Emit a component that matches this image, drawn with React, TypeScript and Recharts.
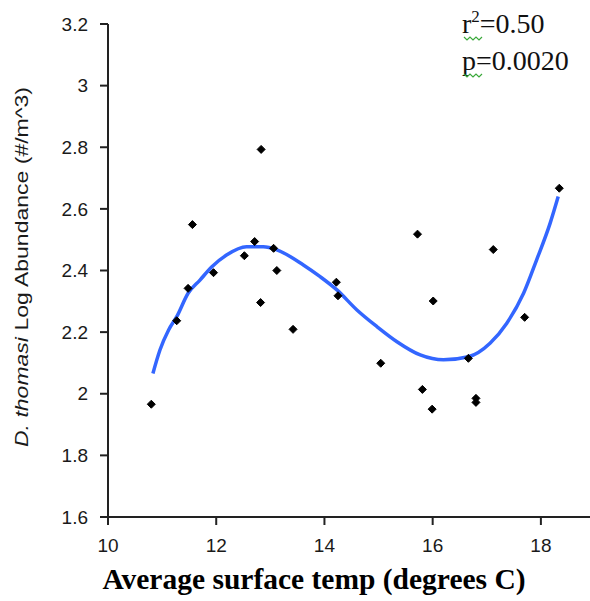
import { ScatterChart, Scatter, XAxis, YAxis } from "recharts"

// axis ticks
const tempTicks = [10, 12, 14, 16, 18]
const abundanceTicks = [1.6, 1.8, 2, 2.2, 2.4, 2.6, 2.8, 3, 3.2]

// sampled stations: surface temp (C) and log abundance
const sampleTemp = [
  10.8, 11.27, 11.48, 11.56, 11.95, 12.52, 12.71, 12.82, 12.83, 13.06, 13.12, 13.42, 14.22,
  14.25, 15.04, 15.72, 15.81, 15.99, 16.01, 16.66, 16.8, 16.8, 17.12, 17.7, 18.34,
]
const sampleAbundance = [
  1.966, 2.237, 2.342, 2.549, 2.393, 2.448, 2.494, 2.296, 2.793, 2.472, 2.4, 2.209, 2.362,
  2.318, 2.099, 2.518, 2.014, 1.95, 2.301, 2.115, 1.985, 1.972, 2.468, 2.248, 2.667,
]

// fitted curve
const fitTemp = [
  10.83, 10.96, 11.12, 11.27, 11.48, 11.7, 11.92, 12.19, 12.56, 12.87, 13.12, 13.61, 13.92,
  14.23, 14.6, 14.97, 15.34, 15.77, 16.2, 16.66, 17.06, 17.37, 17.68, 17.92, 18.17, 18.32,
]
const fitAbundance = [
  2.066, 2.142, 2.207, 2.25, 2.326, 2.369, 2.412, 2.45, 2.477, 2.477, 2.467, 2.418, 2.38,
  2.337, 2.272, 2.218, 2.169, 2.126, 2.11, 2.12, 2.164, 2.229, 2.326, 2.434, 2.553, 2.64,
]

const points = sampleTemp.map((x, i) => ({ x, y: sampleAbundance[i] }))
const fit = fitTemp.map((x, i) => ({ x, y: fitAbundance[i] }))

const tickFont = { fontFamily: "'Liberation Sans', Arial, sans-serif", fontSize: 19, fill: "#1a1a1a" }

function Diamond(props: any) {
  const { cx, cy } = props
  if (cx == null || cy == null) return null
  return (
    <polygon
      points={`${cx},${cy - 4} ${cx + 4},${cy} ${cx},${cy + 4} ${cx - 4},${cy}`}
      fill="#000"
      stroke="#000"
      strokeWidth={1}
    />
  )
}

function squiggle(x: number, y: number) {
  const pts: string[] = []
  for (let i = 0; i <= 6; i++) pts.push(`${x + i * 3},${y + (i % 2 ? 2 : -1)}`)
  return <polyline points={pts.join(" ")} fill="none" stroke="#3aa83a" strokeWidth={1.2} />
}

export default function App() {
  return (
    <div style={{ position: "absolute", left: 0, top: 0, width: 590, height: 601, overflow: "hidden", background: "#fff" }}>
      <ScatterChart width={595} height={601} margin={{ top: 24, right: 0, bottom: 0, left: 0 }}>
        <XAxis
          type="number"
          dataKey="x"
          domain={[10, 19]}
          ticks={tempTicks}
          allowDataOverflow
          height={84}
          tickSize={8}
          tickMargin={14}
          tick={tickFont}
          axisLine={{ stroke: "#222", strokeWidth: 2 }}
          tickLine={{ stroke: "#222", strokeWidth: 2 }}
        />
        <YAxis
          type="number"
          dataKey="y"
          domain={[1.6, 3.2]}
          ticks={abundanceTicks}
          allowDataOverflow
          width={108}
          tickSize={8}
          tickMargin={12}
          tick={tickFont}
          tickFormatter={(v: number) => String(Number(v.toFixed(1)))}
          axisLine={{ stroke: "#222", strokeWidth: 2 }}
          tickLine={{ stroke: "#222", strokeWidth: 2 }}
        />
        <Scatter
          data={fit}
          line={{ stroke: "#3366ff", strokeWidth: 3.5 }}
          lineJointType="monotoneX"
          shape={() => <g />}
          isAnimationActive={false}
        />
        <Scatter data={points} shape={<Diamond />} isAnimationActive={false} />
      </ScatterChart>
      <svg width={590} height={601} style={{ position: "absolute", left: 0, top: 0, pointerEvents: "none" }}>
        <text
          x={28}
          y={267}
          textAnchor="middle"
          transform="rotate(-90 28 267)"
          fontFamily="'Liberation Sans', Arial, sans-serif"
          fontSize={19}
          fill="#1a1a1a"
          textLength={360}
          lengthAdjust="spacingAndGlyphs"
        >
          <tspan fontStyle="italic">D. thomasi</tspan>
          <tspan> Log Abundance (#/m^3)</tspan>
        </text>
        <text
          x={314}
          y={589}
          textAnchor="middle"
          fontFamily="'Liberation Serif', 'Times New Roman', serif"
          fontWeight="bold"
          fontSize={29.5}
          fill="#000"
        >
          Average surface temp (degrees C)
        </text>
        <text x={462} y={33} fontFamily="'Liberation Serif', 'Times New Roman', serif" fontSize={28} fill="#111">
          <tspan>r</tspan>
          <tspan dy={-11} fontSize={17}>2</tspan>
          <tspan dy={11}>=0.50</tspan>
        </text>
        <text x={462} y={70} fontFamily="'Liberation Serif', 'Times New Roman', serif" fontSize={28} fill="#111">
          p=0.0020
        </text>
        {squiggle(464, 38)}
        {squiggle(464, 75)}
      </svg>
    </div>
  )
}
